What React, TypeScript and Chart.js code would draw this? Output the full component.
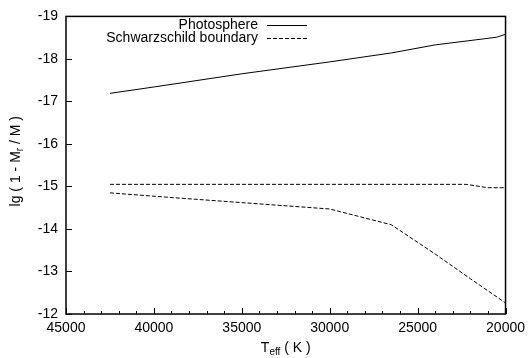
import React, { useEffect, useRef } from "react";
import { Chart, registerables } from "chart.js";

Chart.register(...registerables);

// Photosphere
const photoT = [42500, 40000, 35000, 30000, 26500, 24000, 20500, 20000];
const photoY = [-17.19, -17.34, -17.65, -17.93, -18.14, -18.33, -18.51, -18.58];

// Schwarzschild boundary (upper branch)
const schwUpperT = [42500, 35000, 30000, 22250, 21000, 20000];
const schwUpperY = [-15.05, -15.05, -15.05, -15.05, -14.97, -14.97];

// Schwarzschild boundary (lower branch)
const schwLowerT = [42500, 40000, 35000, 30000, 26500, 24000, 22000, 20000];
const schwLowerY = [-14.85, -14.77, -14.62, -14.47, -14.1, -13.41, -12.83, -12.26];

const xTicks = [45000, 40000, 35000, 30000, 25000, 20000];
const yTicks = [-19, -18, -17, -16, -15, -14, -13, -12];

const legendLabels = ["Photosphere", "Schwarzschild boundary"];

const FONT = '"Liberation Sans", Arial, Helvetica, sans-serif';
const FS = 14;

const toPts = (xs: number[], ys: number[]) => xs.map((v, i) => ({ x: v, y: ys[i] }));

const customPlugin = {
  id: "customAxes",
  afterDraw(chart: any) {
    const { ctx, chartArea, scales } = chart;
    const { left, right, top, bottom } = chartArea;
    const xs = scales.x;
    const ys = scales.y;
    ctx.save();
    ctx.strokeStyle = "#000";
    ctx.fillStyle = "#000";
    // frame
    ctx.lineWidth = 1.5;
    ctx.strokeRect(left, top, right - left, bottom - top);
    // x ticks (inward)
    ctx.lineWidth = 1;
    for (let v = 20000; v <= 45000; v += 1000) {
      const px = Math.round(xs.getPixelForValue(v)) + 0.5;
      const len = v % 5000 === 0 ? 6 : 3;
      ctx.beginPath();
      ctx.moveTo(px, bottom);
      ctx.lineTo(px, bottom - len);
      ctx.stroke();
    }
    // y ticks (inward, left)
    for (const v of yTicks) {
      const py = Math.round(ys.getPixelForValue(v)) + 0.5;
      ctx.beginPath();
      ctx.moveTo(left, py);
      ctx.lineTo(left + 6, py);
      ctx.stroke();
    }
    // legend
    ctx.font = `${FS}px ${FONT}`;
    ctx.textAlign = "right";
    ctx.textBaseline = "middle";
    const lx = 258;
    const rows = [25, 38];
    legendLabels.forEach((lab, i) => {
      ctx.fillText(lab, lx, rows[i]);
      ctx.beginPath();
      ctx.setLineDash(i === 0 ? [] : [4, 2]);
      ctx.moveTo(267, rows[i] + 0.5);
      ctx.lineTo(307, rows[i] + 0.5);
      ctx.stroke();
    });
    ctx.setLineDash([]);
    // x title: T_eff ( K )
    const subFont = `${Math.round(FS * 0.72)}px ${FONT}`;
    const mainFont = `${FS}px ${FONT}`;
    ctx.textBaseline = "alphabetic";
    ctx.textAlign = "left";
    const xParts: [string, boolean][] = [["T", false], ["eff", true], [" ( K )", false]];
    const measure = (parts: [string, boolean][]) =>
      parts.reduce((s, [t, sub]) => {
        ctx.font = sub ? subFont : mainFont;
        return s + ctx.measureText(t).width;
      }, 0);
    let w = measure(xParts);
    let cx = (left + right) / 2 - w / 2;
    const baseX = 352;
    for (const [t, sub] of xParts) {
      ctx.font = sub ? subFont : mainFont;
      ctx.fillText(t, cx, sub ? baseX + 3 : baseX);
      cx += ctx.measureText(t).width;
    }
    // y title: lg ( 1 - M_r / M )
    const yParts: [string, boolean][] = [["lg ( 1 - M", false], ["r", true], [" / M )", false]];
    w = measure(yParts);
    ctx.save();
    ctx.translate(20, (top + bottom) / 2 - 4);
    ctx.rotate(-Math.PI / 2);
    let cy = -w / 2;
    for (const [t, sub] of yParts) {
      ctx.font = sub ? subFont : mainFont;
      ctx.fillText(t, cy, sub ? 3 : 0);
      cy += ctx.measureText(t).width;
    }
    ctx.restore();
    ctx.restore();
  },
};

export default function App() {
  const ref = useRef<HTMLCanvasElement | null>(null);
  useEffect(() => {
    if (!ref.current) return;
    const chart = new Chart(ref.current, {
      type: "line",
      data: {
        datasets: [
          {
            label: legendLabels[0],
            data: toPts(photoT, photoY),
            borderColor: "#000",
            borderWidth: 1,
            pointRadius: 0,
            fill: false,
          },
          {
            label: legendLabels[1],
            data: toPts(schwUpperT, schwUpperY),
            borderColor: "#000",
            borderWidth: 1,
            borderDash: [4, 2],
            pointRadius: 0,
            fill: false,
          },
          {
            label: legendLabels[1] + " (2)",
            data: toPts(schwLowerT, schwLowerY),
            borderColor: "#000",
            borderWidth: 1,
            borderDash: [4, 2],
            pointRadius: 0,
            fill: false,
          },
        ],
      },
      options: {
        responsive: false,
        animation: false,
        layout: { padding: { top: 11, right: 21, left: 0, bottom: 0 } },
        plugins: { legend: { display: false }, tooltip: { enabled: false } },
        scales: {
          x: {
            type: "linear",
            min: 20000,
            max: 45000,
            reverse: true,
            afterBuildTicks: (s: any) => {
              s.ticks = xTicks.map((v) => ({ value: v }));
            },
            afterFit: (s: any) => {
              s.height = 44;
            },
            ticks: {
              color: "#000",
              font: { family: FONT, size: FS },
              padding: 6,
              maxRotation: 0,
              autoSkip: false,
              callback: (v: any) => String(v),
            },
            grid: { display: false, drawTicks: false },
            border: { display: false },
          },
          y: {
            type: "linear",
            min: -19,
            max: -12,
            reverse: true,
            afterBuildTicks: (s: any) => {
              s.ticks = yTicks.map((v) => ({ value: v }));
            },
            afterFit: (s: any) => {
              s.width = 66;
            },
            ticks: {
              color: "#000",
              font: { family: FONT, size: FS },
              padding: 8,
              autoSkip: false,
              callback: (v: any) => String(v),
            },
            grid: { display: false, drawTicks: false },
            border: { display: false },
          },
        },
      },
      plugins: [customPlugin],
    });
    return () => chart.destroy();
  }, []);
  return (
    <canvas
      ref={ref}
      width={531}
      height={358}
      style={{ position: "absolute", left: 0, top: 0, background: "#fff" }}
    />
  );
}
